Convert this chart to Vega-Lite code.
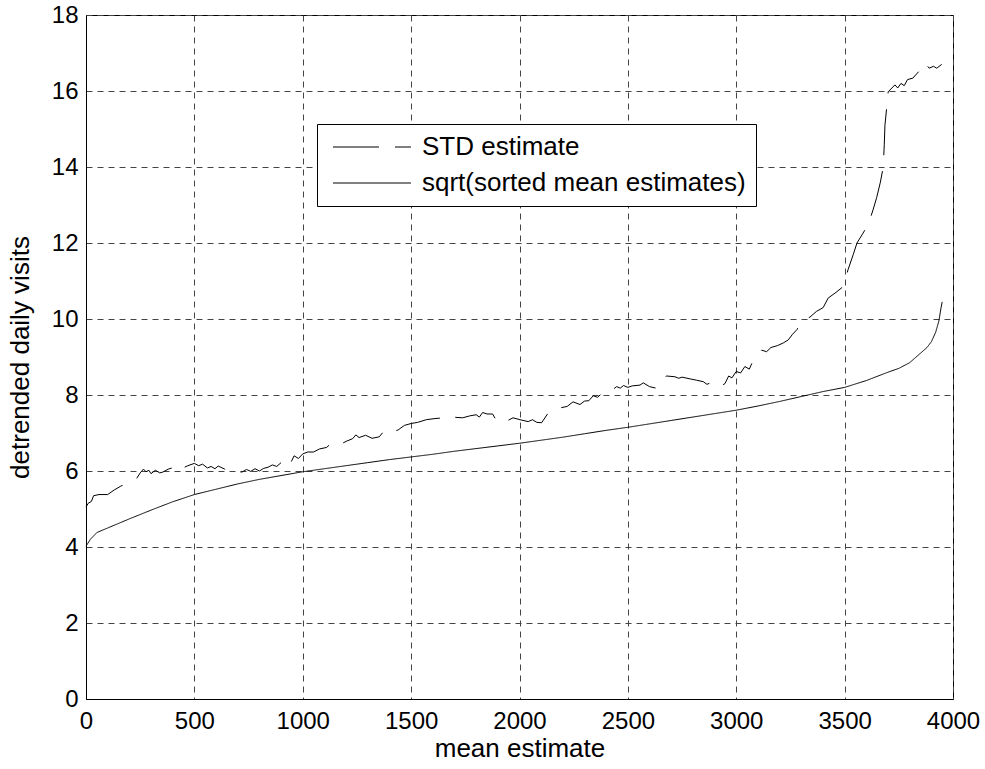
{
  "$schema": "https://vega.github.io/schema/vega-lite/v6.json",
  "autosize": {"type": "none"},
  "width": 867,
  "height": 684,
  "padding": {"left": 86, "top": 15, "right": 32, "bottom": 70},
  "background": "white",
  "config": {
    "font": "Liberation Sans",
    "view": {"stroke": "black", "strokeWidth": 1},
    "axis": {
      "labelFont": "Liberation Sans", "labelFontSize": 24, "labelColor": "black",
      "titleFont": "Liberation Sans", "titleFontSize": 26, "titleFontWeight": "normal", "titleColor": "black",
      "domainColor": "black", "ticks": false, "format": "d", "labelFlush": false, "labelOverlap": false,
      "grid": true, "gridDash": [6, 5], "gridColor": "#444", "gridOpacity": 1, "gridWidth": 1
    }
  },
  "data": {"values": [
    {"s":"sqrt(sorted mean estimates)","x":0,"y":4.02},
    {"s":"sqrt(sorted mean estimates)","x":20,"y":4.2},
    {"s":"sqrt(sorted mean estimates)","x":50,"y":4.38},
    {"s":"sqrt(sorted mean estimates)","x":100,"y":4.5},
    {"s":"sqrt(sorted mean estimates)","x":200,"y":4.74},
    {"s":"sqrt(sorted mean estimates)","x":300,"y":4.97},
    {"s":"sqrt(sorted mean estimates)","x":400,"y":5.19},
    {"s":"sqrt(sorted mean estimates)","x":500,"y":5.38},
    {"s":"sqrt(sorted mean estimates)","x":600,"y":5.52},
    {"s":"sqrt(sorted mean estimates)","x":700,"y":5.66},
    {"s":"sqrt(sorted mean estimates)","x":800,"y":5.78},
    {"s":"sqrt(sorted mean estimates)","x":900,"y":5.88},
    {"s":"sqrt(sorted mean estimates)","x":1000,"y":5.98},
    {"s":"sqrt(sorted mean estimates)","x":1100,"y":6.06},
    {"s":"sqrt(sorted mean estimates)","x":1200,"y":6.14},
    {"s":"sqrt(sorted mean estimates)","x":1300,"y":6.22},
    {"s":"sqrt(sorted mean estimates)","x":1400,"y":6.3},
    {"s":"sqrt(sorted mean estimates)","x":1500,"y":6.37},
    {"s":"sqrt(sorted mean estimates)","x":1600,"y":6.44},
    {"s":"sqrt(sorted mean estimates)","x":1700,"y":6.52},
    {"s":"sqrt(sorted mean estimates)","x":1800,"y":6.59},
    {"s":"sqrt(sorted mean estimates)","x":1900,"y":6.66},
    {"s":"sqrt(sorted mean estimates)","x":2000,"y":6.73},
    {"s":"sqrt(sorted mean estimates)","x":2100,"y":6.81},
    {"s":"sqrt(sorted mean estimates)","x":2200,"y":6.89},
    {"s":"sqrt(sorted mean estimates)","x":2300,"y":6.98},
    {"s":"sqrt(sorted mean estimates)","x":2400,"y":7.07},
    {"s":"sqrt(sorted mean estimates)","x":2500,"y":7.15},
    {"s":"sqrt(sorted mean estimates)","x":2600,"y":7.24},
    {"s":"sqrt(sorted mean estimates)","x":2700,"y":7.33},
    {"s":"sqrt(sorted mean estimates)","x":2800,"y":7.42},
    {"s":"sqrt(sorted mean estimates)","x":2900,"y":7.51},
    {"s":"sqrt(sorted mean estimates)","x":3000,"y":7.6},
    {"s":"sqrt(sorted mean estimates)","x":3100,"y":7.71},
    {"s":"sqrt(sorted mean estimates)","x":3200,"y":7.83},
    {"s":"sqrt(sorted mean estimates)","x":3300,"y":7.96},
    {"s":"sqrt(sorted mean estimates)","x":3400,"y":8.09},
    {"s":"sqrt(sorted mean estimates)","x":3500,"y":8.2},
    {"s":"sqrt(sorted mean estimates)","x":3600,"y":8.38},
    {"s":"sqrt(sorted mean estimates)","x":3700,"y":8.6},
    {"s":"sqrt(sorted mean estimates)","x":3750,"y":8.7},
    {"s":"sqrt(sorted mean estimates)","x":3800,"y":8.85},
    {"s":"sqrt(sorted mean estimates)","x":3850,"y":9.1},
    {"s":"sqrt(sorted mean estimates)","x":3880,"y":9.25},
    {"s":"sqrt(sorted mean estimates)","x":3900,"y":9.4},
    {"s":"sqrt(sorted mean estimates)","x":3920,"y":9.65},
    {"s":"sqrt(sorted mean estimates)","x":3935,"y":9.95},
    {"s":"sqrt(sorted mean estimates)","x":3945,"y":10.3},
    {"s":"sqrt(sorted mean estimates)","x":3950,"y":10.45},
    {"s":"STD estimate","x":0,"y":5.05},
    {"s":"STD estimate","x":10,"y":5.15},
    {"s":"STD estimate","x":25,"y":5.2},
    {"s":"STD estimate","x":35,"y":5.35},
    {"s":"STD estimate","x":60,"y":5.38},
    {"s":"STD estimate","x":100,"y":5.38},
    {"s":"STD estimate","x":130,"y":5.5},
    {"s":"STD estimate","x":160,"y":5.6},
    {"s":"STD estimate","x":200,"y":5.7},
    {"s":"STD estimate","x":231,"y":5.78},
    {"s":"STD estimate","x":250,"y":5.95},
    {"s":"STD estimate","x":265,"y":6.05},
    {"s":"STD estimate","x":277,"y":5.98},
    {"s":"STD estimate","x":290,"y":6.02},
    {"s":"STD estimate","x":300,"y":5.93},
    {"s":"STD estimate","x":320,"y":6.02},
    {"s":"STD estimate","x":340,"y":5.95},
    {"s":"STD estimate","x":354,"y":5.97},
    {"s":"STD estimate","x":380,"y":6.05},
    {"s":"STD estimate","x":408,"y":6.1},
    {"s":"STD estimate","x":425,"y":6.07},
    {"s":"STD estimate","x":440,"y":6.17},
    {"s":"STD estimate","x":455,"y":6.1},
    {"s":"STD estimate","x":470,"y":6.14},
    {"s":"STD estimate","x":500,"y":6.2},
    {"s":"STD estimate","x":520,"y":6.14},
    {"s":"STD estimate","x":538,"y":6.18},
    {"s":"STD estimate","x":560,"y":6.08},
    {"s":"STD estimate","x":577,"y":6.12},
    {"s":"STD estimate","x":595,"y":6.06},
    {"s":"STD estimate","x":610,"y":6.13},
    {"s":"STD estimate","x":640,"y":6.05},
    {"s":"STD estimate","x":670,"y":6.0},
    {"s":"STD estimate","x":692,"y":5.95},
    {"s":"STD estimate","x":723,"y":5.98},
    {"s":"STD estimate","x":740,"y":6.04},
    {"s":"STD estimate","x":760,"y":5.99},
    {"s":"STD estimate","x":780,"y":6.06},
    {"s":"STD estimate","x":800,"y":6.0},
    {"s":"STD estimate","x":820,"y":6.07},
    {"s":"STD estimate","x":840,"y":6.1},
    {"s":"STD estimate","x":860,"y":6.16},
    {"s":"STD estimate","x":880,"y":6.12},
    {"s":"STD estimate","x":900,"y":6.22},
    {"s":"STD estimate","x":923,"y":6.2},
    {"s":"STD estimate","x":935,"y":6.32},
    {"s":"STD estimate","x":945,"y":6.22},
    {"s":"STD estimate","x":960,"y":6.4},
    {"s":"STD estimate","x":980,"y":6.33},
    {"s":"STD estimate","x":1000,"y":6.45},
    {"s":"STD estimate","x":1023,"y":6.5},
    {"s":"STD estimate","x":1050,"y":6.5},
    {"s":"STD estimate","x":1077,"y":6.58},
    {"s":"STD estimate","x":1110,"y":6.62},
    {"s":"STD estimate","x":1130,"y":6.72},
    {"s":"STD estimate","x":1150,"y":6.66},
    {"s":"STD estimate","x":1180,"y":6.72},
    {"s":"STD estimate","x":1200,"y":6.78},
    {"s":"STD estimate","x":1230,"y":6.85},
    {"s":"STD estimate","x":1245,"y":6.95},
    {"s":"STD estimate","x":1260,"y":6.88},
    {"s":"STD estimate","x":1290,"y":6.94},
    {"s":"STD estimate","x":1320,"y":6.86},
    {"s":"STD estimate","x":1353,"y":6.9},
    {"s":"STD estimate","x":1370,"y":7.02},
    {"s":"STD estimate","x":1384,"y":6.95},
    {"s":"STD estimate","x":1410,"y":7.02},
    {"s":"STD estimate","x":1440,"y":7.08},
    {"s":"STD estimate","x":1469,"y":7.2},
    {"s":"STD estimate","x":1500,"y":7.25},
    {"s":"STD estimate","x":1530,"y":7.28},
    {"s":"STD estimate","x":1570,"y":7.35},
    {"s":"STD estimate","x":1610,"y":7.38},
    {"s":"STD estimate","x":1650,"y":7.4},
    {"s":"STD estimate","x":1680,"y":7.46},
    {"s":"STD estimate","x":1707,"y":7.41},
    {"s":"STD estimate","x":1738,"y":7.4},
    {"s":"STD estimate","x":1770,"y":7.45},
    {"s":"STD estimate","x":1800,"y":7.48},
    {"s":"STD estimate","x":1815,"y":7.42},
    {"s":"STD estimate","x":1830,"y":7.54},
    {"s":"STD estimate","x":1850,"y":7.5},
    {"s":"STD estimate","x":1876,"y":7.5},
    {"s":"STD estimate","x":1890,"y":7.36},
    {"s":"STD estimate","x":1910,"y":7.44},
    {"s":"STD estimate","x":1930,"y":7.42},
    {"s":"STD estimate","x":1950,"y":7.34},
    {"s":"STD estimate","x":1970,"y":7.4},
    {"s":"STD estimate","x":2002,"y":7.35},
    {"s":"STD estimate","x":2040,"y":7.3},
    {"s":"STD estimate","x":2060,"y":7.35},
    {"s":"STD estimate","x":2080,"y":7.28},
    {"s":"STD estimate","x":2102,"y":7.27},
    {"s":"STD estimate","x":2141,"y":7.6},
    {"s":"STD estimate","x":2180,"y":7.65},
    {"s":"STD estimate","x":2220,"y":7.7},
    {"s":"STD estimate","x":2247,"y":7.82},
    {"s":"STD estimate","x":2279,"y":7.75},
    {"s":"STD estimate","x":2300,"y":7.84},
    {"s":"STD estimate","x":2320,"y":7.85},
    {"s":"STD estimate","x":2340,"y":7.98},
    {"s":"STD estimate","x":2360,"y":7.94},
    {"s":"STD estimate","x":2380,"y":8.04},
    {"s":"STD estimate","x":2400,"y":8.02},
    {"s":"STD estimate","x":2418,"y":8.09},
    {"s":"STD estimate","x":2448,"y":8.22},
    {"s":"STD estimate","x":2465,"y":8.18},
    {"s":"STD estimate","x":2480,"y":8.25},
    {"s":"STD estimate","x":2500,"y":8.2},
    {"s":"STD estimate","x":2520,"y":8.24},
    {"s":"STD estimate","x":2556,"y":8.26},
    {"s":"STD estimate","x":2571,"y":8.32},
    {"s":"STD estimate","x":2600,"y":8.22},
    {"s":"STD estimate","x":2630,"y":8.18},
    {"s":"STD estimate","x":2660,"y":8.45},
    {"s":"STD estimate","x":2679,"y":8.5},
    {"s":"STD estimate","x":2717,"y":8.48},
    {"s":"STD estimate","x":2735,"y":8.44},
    {"s":"STD estimate","x":2750,"y":8.47},
    {"s":"STD estimate","x":2790,"y":8.42},
    {"s":"STD estimate","x":2817,"y":8.39},
    {"s":"STD estimate","x":2848,"y":8.35},
    {"s":"STD estimate","x":2865,"y":8.28},
    {"s":"STD estimate","x":2880,"y":8.32},
    {"s":"STD estimate","x":2900,"y":8.22},
    {"s":"STD estimate","x":2917,"y":8.2},
    {"s":"STD estimate","x":2948,"y":8.3},
    {"s":"STD estimate","x":2965,"y":8.5},
    {"s":"STD estimate","x":2980,"y":8.45},
    {"s":"STD estimate","x":3000,"y":8.62},
    {"s":"STD estimate","x":3020,"y":8.58},
    {"s":"STD estimate","x":3040,"y":8.75},
    {"s":"STD estimate","x":3060,"y":8.68},
    {"s":"STD estimate","x":3079,"y":8.92},
    {"s":"STD estimate","x":3117,"y":9.18},
    {"s":"STD estimate","x":3140,"y":9.14},
    {"s":"STD estimate","x":3160,"y":9.25},
    {"s":"STD estimate","x":3190,"y":9.3},
    {"s":"STD estimate","x":3217,"y":9.37},
    {"s":"STD estimate","x":3240,"y":9.45},
    {"s":"STD estimate","x":3260,"y":9.6},
    {"s":"STD estimate","x":3280,"y":9.72},
    {"s":"STD estimate","x":3302,"y":9.95},
    {"s":"STD estimate","x":3340,"y":10.05},
    {"s":"STD estimate","x":3370,"y":10.2},
    {"s":"STD estimate","x":3401,"y":10.3},
    {"s":"STD estimate","x":3424,"y":10.55},
    {"s":"STD estimate","x":3460,"y":10.7},
    {"s":"STD estimate","x":3493,"y":10.85},
    {"s":"STD estimate","x":3516,"y":11.3},
    {"s":"STD estimate","x":3540,"y":11.7},
    {"s":"STD estimate","x":3557,"y":12.0},
    {"s":"STD estimate","x":3585,"y":12.26},
    {"s":"STD estimate","x":3610,"y":12.5},
    {"s":"STD estimate","x":3631,"y":12.87},
    {"s":"STD estimate","x":3648,"y":13.2},
    {"s":"STD estimate","x":3665,"y":13.6},
    {"s":"STD estimate","x":3678,"y":14.0},
    {"s":"STD estimate","x":3683,"y":14.6},
    {"s":"STD estimate","x":3686,"y":15.1},
    {"s":"STD estimate","x":3693,"y":15.5},
    {"s":"STD estimate","x":3701,"y":15.98},
    {"s":"STD estimate","x":3732,"y":16.16},
    {"s":"STD estimate","x":3745,"y":16.08},
    {"s":"STD estimate","x":3760,"y":16.2},
    {"s":"STD estimate","x":3775,"y":16.14},
    {"s":"STD estimate","x":3790,"y":16.3},
    {"s":"STD estimate","x":3815,"y":16.34},
    {"s":"STD estimate","x":3848,"y":16.55},
    {"s":"STD estimate","x":3870,"y":16.75},
    {"s":"STD estimate","x":3890,"y":16.6},
    {"s":"STD estimate","x":3910,"y":16.65},
    {"s":"STD estimate","x":3925,"y":16.6},
    {"s":"STD estimate","x":3948,"y":16.7}
  ]},
  "mark": {"type": "line", "color": "black", "strokeWidth": 1, "interpolate": "linear"},
  "encoding": {
    "x": {"field": "x", "type": "quantitative", "scale": {"domain": [0, 4000], "nice": false},
      "axis": {"values": [0,500,1000,1500,2000,2500,3000,3500,4000], "title": "mean estimate", "labelPadding": 10, "titlePadding": 2}},
    "y": {"field": "y", "type": "quantitative", "scale": {"domain": [0, 18], "nice": false},
      "axis": {"values": [0,2,4,6,8,10,12,14,16,18], "title": "detrended daily visits", "labelPadding": 8, "titlePadding": 18}},
    "strokeDash": {"field": "s", "type": "nominal",
      "scale": {"domain": ["STD estimate", "sqrt(sorted mean estimates)"], "range": [[46, 16], [1, 0]]},
      "legend": {"title": null, "orient": "none", "legendX": 231, "legendY": 109,
        "strokeColor": "black", "fillColor": "white", "padding": 10,
        "symbolType": "M-1.08,0H10.92", "symbolSize": 169, "symbolStrokeWidth": 1, "symbolStrokeColor": "black",
        "labelFont": "Liberation Sans", "labelFontSize": 26, "labelColor": "black", "labelOffset": 69,
        "rowPadding": 10, "labelLimit": 600, "cornerRadius": 0}},
    "order": {"field": "x", "type": "quantitative"}
  }
}
